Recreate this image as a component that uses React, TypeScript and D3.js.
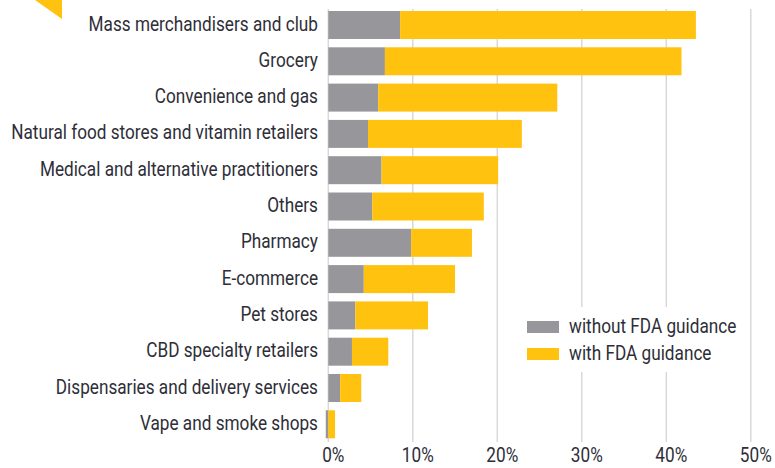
import * as d3 from 'd3';

const categories = [
  'Mass merchandisers and club',
  'Grocery',
  'Convenience and gas',
  'Natural food stores and vitamin retailers',
  'Medical and alternative practitioners',
  'Others',
  'Pharmacy',
  'E-commerce',
  'Pet stores',
  'CBD specialty retailers',
  'Dispensaries and delivery services',
  'Vape and smoke shops',
];

// share of sales (%)
const withoutFDA = [8.5, 6.7, 5.9, 4.7, 6.3, 5.2, 9.8, 4.2, 3.2, 2.8, 1.4, -0.3];
const withFDA = [43.5, 41.8, 27.1, 22.9, 20.1, 18.4, 17.0, 15.0, 11.8, 7.1, 3.9, 0.8];

const xTicks = [0, 10, 20, 30, 40, 50];
const legendItems = ['without FDA guidance', 'with FDA guidance'];

const W = 775;
const H = 468;
const GRAY = '#97979b';
const YELLOW = '#ffc20e';
const INK = '#2e2e38';
const FONT = 'Roboto, "Liberation Sans", sans-serif';
const SQUEEZE = 0.86; // the original face is a condensed one

function Label(props: { x: number; y: number; anchor?: string; children: React.ReactNode }) {
  return (
    <g transform={`translate(${props.x},${props.y}) scale(${SQUEEZE},1)`}>
      <text textAnchor={props.anchor || 'start'} fontSize={20} fill={INK}>
        {props.children}
      </text>
    </g>
  );
}

export default function App() {
  const x = d3.scaleLinear().domain([0, 50]).range([328.3, 750.8]);
  const y = d3
    .scaleBand<string>()
    .domain(categories)
    .range([6.85, 442.45])
    .paddingInner(0.229)
    .paddingOuter(0.1145);
  const bh = y.bandwidth();

  const colors = [GRAY, YELLOW];

  return (
    <svg
      width={W}
      height={H}
      style={{ position: 'absolute', left: 0, top: 0, background: '#fff' }}
      fontFamily={FONT}
    >
      {/* corner mark */}
      <path d="M35,0 L62,0 L62,19 Z" fill={YELLOW} />

      {/* grid */}
      {xTicks.map(t => (
        <g key={t}>
          <line x1={x(t)} x2={x(t)} y1={9} y2={442} stroke="#d9d9d9" strokeWidth={1.5} />
          <Label x={x(t) + 5} y={462} anchor="middle">
            {t}%
          </Label>
        </g>
      ))}

      {/* bars */}
      {categories.map((c, i) => {
        const y0 = y(c) as number;
        const g0 = Math.min(0, withoutFDA[i]);
        const g1 = Math.max(0, withoutFDA[i]);
        return (
          <g key={c}>
            <rect x={x(g0)} y={y0} width={x(g1) - x(g0)} height={bh} fill={GRAY} />
            <rect x={x(g1)} y={y0} width={x(withFDA[i]) - x(g1)} height={bh} fill={YELLOW} />
            <Label x={318} y={y0 + bh / 2 + 5.5} anchor="end">
              {c}
            </Label>
          </g>
        );
      })}

      {/* legend */}
      <rect x={520} y={307} width={225} height={65} fill="#fff" />
      {legendItems.map((l, i) => (
        <g key={l} transform={`translate(527, ${321 + i * 27})`}>
          <rect width={32} height={12} fill={colors[i]} />
          <Label x={42} y={12}>
            {l}
          </Label>
        </g>
      ))}
    </svg>
  );
}
